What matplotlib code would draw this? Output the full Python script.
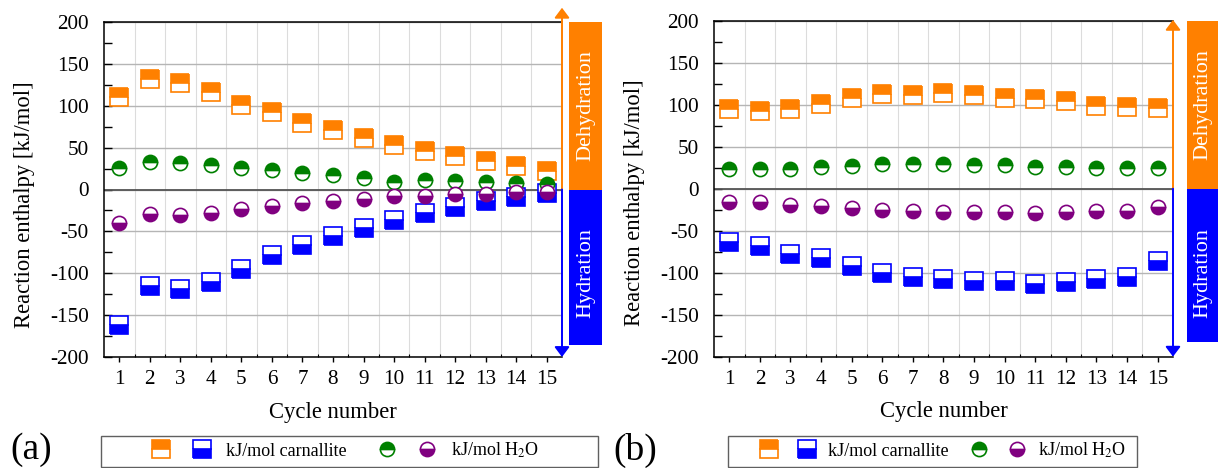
import numpy as np
import matplotlib
matplotlib.use("Agg")
import matplotlib.pyplot as plt
from matplotlib.patches import Rectangle
from matplotlib.lines import Line2D
from matplotlib.legend_handler import HandlerTuple
from matplotlib.transforms import blended_transform_factory

plt.rcParams["font.family"] = ["Liberation Serif", "DejaVu Serif"]
plt.rcParams["mathtext.fontset"] = "stix"
plt.rcParams["axes.unicode_minus"] = False

# ---------------- data ----------------
cycles = np.arange(1, 16)

# panel (a)
dehyd_a = [110, 132, 127, 116, 101, 92, 79, 71, 61, 53, 46, 40, 34, 28, 22]
hyd_a = [-162, -115.5, -118.5, -111, -94.5, -78, -66, -55, -45.5, -36, -28, -21, -14, -9, -4]
h2o_dehyd_a = [26, 33, 32, 29, 26, 23, 20, 17.5, 14, 9, 11.5, 10, 9, 7.5, 6]
h2o_hyd_a = [-40.5, -29, -30, -28, -23, -19.5, -16, -13.5, -11.5, -8, -7.5, -5.5, -5.5, -3, -3.5]

# panel (b)
dehyd_b = [95, 92, 95, 101, 107.5, 113, 111, 114, 111.5, 108.5, 107, 104, 99, 97, 96]
hyd_b = [-64, -68, -78, -83, -92, -100, -105, -108, -110, -110, -113.5, -110.5, -108, -105, -86]
h2o_dehyd_b = [24, 23.5, 24, 26, 27.5, 29.5, 29, 29.5, 28, 28, 26, 26, 25, 25, 25]
h2o_hyd_b = [-15.5, -16, -19.5, -21, -23.5, -25.5, -26, -27.5, -27.5, -27.5, -29, -27.5, -26.5, -26, -21.5]

ORANGE = "#FF8000"
BLUE = "#0000FF"
GREEN = "#008000"
PURPLE = "#800080"

W, H = 1221, 468
fig = plt.figure(figsize=(W / 100, H / 100), dpi=100)


def half_marker(color, shape, fill, ms):
    return dict(ls="none", marker=shape, ms=ms, fillstyle=fill, mfc=color,
                mfcalt="white", mec=color, mew=1.2)


def panel(ax, dehyd, hyd, w_dehyd, w_hyd, box_x, box_w, hyd_bottom, top_tip, lab_y):
    ax.set_xlim(0.5, 15.5)
    ax.set_ylim(-200, 200)
    ax.set_xticks(cycles)
    ax.set_xticks(np.arange(1.5, 15, 1), minor=True)
    ax.set_yticks(np.arange(-200, 201, 50))
    ax.set_yticks(np.arange(-175, 200, 50), minor=True)
    ax.tick_params(axis="x", which="major", direction="out", length=3.6, width=1,
                   pad=6, labelsize=15.2)
    ax.tick_params(axis="x", which="minor", direction="in", length=2.5, width=0.8)
    ax.tick_params(axis="y", which="both", direction="in", length=5.5, width=1,
                   pad=11, labelsize=15.2, right=False)
    ax.set_axisbelow(True)
    ax.grid(axis="x", which="minor", color="#dcdcdc", lw=0.8)
    ax.grid(axis="y", which="major", color="#b5b5b5", lw=1)
    ax.axhline(0, color="#555555", lw=1.3, zorder=1.5)
    for s in ["left", "top", "bottom"]:
        ax.spines[s].set_linewidth(1.1)
    ax.spines["right"].set_visible(False)

    ax.plot(cycles, dehyd, **half_marker(ORANGE, "s", "top", 13))
    ax.plot(cycles, hyd, **half_marker(BLUE, "s", "bottom", 13))
    ax.plot(cycles, w_dehyd, **half_marker(GREEN, "o", "top", 10.2))
    ax.plot(cycles, w_hyd, **half_marker(PURPLE, "o", "bottom", 10.2))

    ax.set_xlabel("Cycle number", fontsize=16.3)
    ax.xaxis.set_label_coords(0.5, -0.133)
    ax.set_ylabel("Reaction enthalpy [kJ/mol]", fontsize=16.3)
    ax.yaxis.set_label_coords(-0.151, lab_y)

    tr = blended_transform_factory(ax.transAxes, ax.transData)
    ax.add_patch(Rectangle((box_x, 0), box_w, 200, transform=tr, facecolor=ORANGE,
                           edgecolor="none", clip_on=False))
    ax.add_patch(Rectangle((box_x, hyd_bottom), box_w, -hyd_bottom, transform=tr,
                           facecolor=BLUE, edgecolor="none", clip_on=False))
    ax.text(box_x + box_w / 2, 100, "Dehydration", transform=tr, rotation=90,
            color="white", ha="center", va="center", fontsize=16, clip_on=False)
    ax.text(box_x + box_w / 2, -100, "Hydration", transform=tr, rotation=90,
            color="white", ha="center", va="center", fontsize=16, clip_on=False)

    style = "-|>,head_length=0.6,head_width=0.45"
    ax.annotate("", xy=(1.0, top_tip), xytext=(1.0, 0), xycoords=tr, textcoords=tr,
                arrowprops=dict(arrowstyle=style, color=ORANGE, lw=1.4,
                                shrinkA=0, shrinkB=0), annotation_clip=False)
    ax.annotate("", xy=(1.0, -200), xytext=(1.0, 0), xycoords=tr, textcoords=tr,
                arrowprops=dict(arrowstyle=style, color=BLUE, lw=1.4,
                                shrinkA=0, shrinkB=0), annotation_clip=False)


ax_a = fig.add_axes([104 / W, (H - 357) / H, 458 / W, 335 / H])
ax_b = fig.add_axes([714 / W, (H - 356.7) / H, 459 / W, 336 / H])

panel(ax_a, dehyd_a, hyd_a, h2o_dehyd_a, h2o_hyd_a, 1.0153, 0.072, -185.6, 217, 0.454)
panel(ax_b, dehyd_b, hyd_b, h2o_dehyd_b, h2o_hyd_b, 1.0305, 0.0675, -183, 201, 0.457)

# ---------------- legends ----------------
labels = ["kJ/mol carnallite", "kJ/mol H$_2$O"]


def make_legend(left_px, hl, pad, htp, cs, box_x0, box_x1):
    handles = [
        (Line2D([], [], **half_marker(ORANGE, "s", "top", 13)),
         Line2D([], [], **half_marker(BLUE, "s", "bottom", 13))),
        (Line2D([], [], **half_marker(GREEN, "o", "top", 10.2)),
         Line2D([], [], **half_marker(PURPLE, "o", "bottom", 10.2))),
    ]
    fig.legend(handles, labels, ncol=2, loc="center left",
               bbox_to_anchor=(left_px / W, (H - 450.5) / H), frameon=False,
               fontsize=13, handlelength=hl, handletextpad=htp, columnspacing=cs,
               borderpad=0, borderaxespad=0,
               handler_map={tuple: HandlerTuple(ndivide=None, pad=pad)})
    fig.patches.append(Rectangle((box_x0 / W, 0.6 / H), (box_x1 - box_x0) / W, 31 / H,
                                 transform=fig.transFigure, facecolor="none",
                                 edgecolor="#606060", lw=1))


make_legend(151.5, 3.32, 1.22, 0.80, 1.69, 101, 598)
make_legend(759.5, 3.18, 1.08, 0.61, 1.14, 728, 1137)

fig.text(10 / W, (H - 450) / H, "(a)", fontsize=27, ha="left", va="center")
fig.text(613 / W, (H - 450) / H, "(b)", fontsize=27, ha="left", va="center")

fig.savefig("out.png", dpi=100)
